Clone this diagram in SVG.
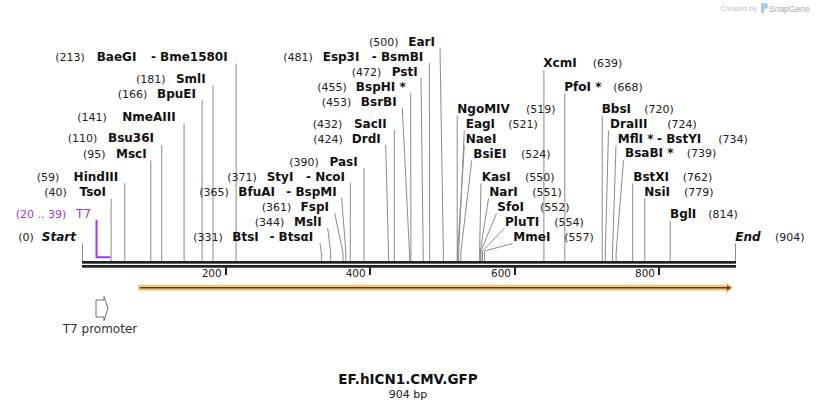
<svg xmlns="http://www.w3.org/2000/svg" width="818" height="411" viewBox="0 0 818 411">
<style>
.n{font-family:"DejaVu Sans",Verdana,sans-serif;font-size:11px;fill:#222}
.b{font-family:"DejaVu Sans",Verdana,sans-serif;font-size:12px;font-weight:bold;fill:#111}
.bi{font-family:"DejaVu Sans",Verdana,sans-serif;font-size:12px;font-weight:bold;font-style:italic;fill:#111}
.e{text-anchor:end}
.t{font-family:"DejaVu Sans",Verdana,sans-serif;font-size:10.5px;fill:#222;text-anchor:end}
.p{font-family:"DejaVu Sans",Verdana,sans-serif;fill:#a335ef}
#connectors line,#connectors polyline{stroke:#8c8c8c;stroke-width:1;fill:none}
</style>
<rect width="818" height="411" fill="#fff"/>
<g id="watermark">
<text x="757" y="11" font-family="'Liberation Sans',Arial,sans-serif" font-size="7.5px" fill="#c4c4c4" text-anchor="end">Created by</text>
<path d="M761,3 h4 a3,3 0 0 1 0,6 h-1 v4 h-3 z" fill="#a9cdef"/>
<text x="769" y="11.5" font-family="'Liberation Sans',Arial,sans-serif" font-size="8.5px" fill="#aaaaaa">SnapGene</text>
</g>
<g id="connectors">
<line x1="82.5" y1="243.5" x2="82.5" y2="261"/>
<line x1="111.1" y1="198.5" x2="111.1" y2="261"/>
<line x1="124.8" y1="183" x2="124.8" y2="261"/>
<line x1="150.8" y1="160.5" x2="150.8" y2="261"/>
<line x1="161.7" y1="145" x2="161.7" y2="261"/>
<line x1="184.1" y1="123.5" x2="184.1" y2="261"/>
<line x1="202.1" y1="100" x2="202.1" y2="261"/>
<line x1="213" y1="85.5" x2="213" y2="261"/>
<line x1="236.1" y1="63.5" x2="236.1" y2="261"/>
<polyline points="320,243 321.4,253 321.4,261"/>
<polyline points="327.7,228 330.7,253 330.7,261"/>
<polyline points="334.7,213 343,253 343,261"/>
<polyline points="341.7,198 345.9,253 345.9,261"/>
<line x1="350.3" y1="183" x2="350.3" y2="261"/>
<line x1="364" y1="168" x2="364" y2="261"/>
<polyline points="385.7,145 388.5,253 388.5,261"/>
<line x1="394.3" y1="130" x2="394.3" y2="261"/>
<polyline points="402.3,108 409.5,253 409.5,261"/>
<polyline points="410.7,93 410.9,253 410.9,261"/>
<polyline points="421,78 423.2,253 423.2,261"/>
<polyline points="429.3,63 429.7,253 429.7,261"/>
<polyline points="440,48 443.4,253 443.4,261"/>
<line x1="457.2" y1="115.5" x2="457.2" y2="261"/>
<polyline points="464.3,130.5 458.6,253 458.6,261"/>
<polyline points="464.3,145.5 457.6,253 457.6,261"/>
<polyline points="471.7,160.5 460.8,253 460.8,261"/>
<polyline points="481,183.5 479.6,251 479.6,261"/>
<polyline points="488.5,198.5 480.3,251 480.3,261"/>
<polyline points="496.5,213.5 481,251 481,261"/>
<polyline points="504,228.5 482.5,251 482.5,261"/>
<polyline points="512.5,243.5 484.6,251 484.6,261"/>
<line x1="543.9" y1="70" x2="543.9" y2="261"/>
<line x1="564.8" y1="93.5" x2="564.8" y2="261"/>
<line x1="602.2" y1="115.5" x2="602.2" y2="261"/>
<polyline points="608.5,130.5 605.3,253 605.3,261"/>
<polyline points="616,145.5 612.5,253 612.5,261"/>
<polyline points="623.5,160.5 616.1,253 616.1,261"/>
<line x1="632.7" y1="183.5" x2="632.7" y2="261"/>
<line x1="644.8" y1="198.5" x2="644.8" y2="261"/>
<line x1="670.2" y1="221" x2="670.2" y2="261"/>
<line x1="735.5" y1="243.5" x2="735.5" y2="261"/>
</g>
<g id="sequence-bar">
<rect x="82" y="261" width="654" height="2.7" fill="#222"/>
<rect x="82" y="265" width="654" height="2.7" fill="#222"/>
<rect x="225" y="267" width="2" height="8" fill="#222"/>
<rect x="369" y="267" width="2" height="8" fill="#222"/>
<rect x="514" y="267" width="2" height="8" fill="#222"/>
<rect x="658" y="267" width="2" height="8" fill="#222"/>
<text class="t" x="221.7" y="277.3">200</text>
<text class="t" x="365.7" y="277.3">400</text>
<text class="t" x="511" y="277.3">600</text>
<text class="t" x="655" y="277.3">800</text>
</g>
<g id="feature-orf">
<path d="M138,284.8 H726 V282.3 L733.5,287.8 L726,293.3 V290.8 H138 Z" fill="#f8c670"/>
<path d="M140,287 H727 V285.2 L731,287.8 L727,290.4 V288.6 H140 Z" fill="#4a3f30"/>
</g>
<g id="t7-promoter">
<path d="M96,300 H104 V296.5 L108,308.5 L104,320.5 V317 H96 Z" fill="#fff" stroke="#6e6e6e" stroke-width="1"/>
<text x="100" y="333" font-family="'DejaVu Sans',sans-serif" font-size="12px" fill="#333" text-anchor="middle">T7 promoter</text>
</g>
<g id="t7-primer">
<polyline points="96.5,220 96.5,257.3 110.5,257.3" fill="none" stroke="#a335ef" stroke-width="2"/>
<text class="p" x="15.7" y="217.7" font-size="11px">(20 .. 39)</text>
<text class="p" x="76" y="217.7" font-size="12px">T7</text>
</g>
<g id="start"><text class="n" x="18.3" y="240.7">(0)</text><text class="bi e" x="76" y="240.7">Start</text></g>
<g id="TsoI"><text class="n" x="44.3" y="196">(40)</text><text class="b e" x="106" y="196">TsoI</text></g>
<g id="HindIII"><text class="n" x="36.7" y="180.7">(59)</text><text class="b e" x="118.3" y="180.7">HindIII</text></g>
<g id="MscI"><text class="n" x="83" y="158">(95)</text><text class="b e" x="146.7" y="158">MscI</text></g>
<g id="Bsu36I"><text class="n" x="67.7" y="142.3">(110)</text><text class="b e" x="154" y="142.3">Bsu36I</text></g>
<g id="NmeAIII"><text class="n" x="77.3" y="121">(141)</text><text class="b e" x="175.7" y="121">NmeAIII</text></g>
<g id="BpuEI"><text class="n" x="117.7" y="97.7">(166)</text><text class="b e" x="196" y="97.7">BpuEI</text></g>
<g id="SmlI"><text class="n" x="136" y="83.3">(181)</text><text class="b e" x="205.7" y="83.3">SmlI</text></g>
<g id="BaeGI"><text class="n" x="55.3" y="61">(213)</text><text class="b" x="96.7" y="61">BaeGI</text><text class="b e" x="227.7" y="61">- Bme1580I</text></g>
<g id="BtsI"><text class="n" x="193.3" y="240.7">(331)</text><text class="b" x="232.3" y="240.7">BtsI</text><text class="b e" x="313.3" y="240.7">- BtsαI</text></g>
<g id="MslI"><text class="n e" x="284.3" y="225.7">(344)</text><text class="b e" x="321.7" y="225.7">MslI</text></g>
<g id="FspI"><text class="n" x="261.7" y="210.7">(361)</text><text class="b e" x="329" y="210.7">FspI</text></g>
<g id="BfuAI"><text class="n" x="199.3" y="195.7">(365)</text><text class="b" x="238.3" y="195.7">BfuAI</text><text class="b e" x="336.7" y="195.7">- BspMI</text></g>
<g id="StyI"><text class="n" x="227.3" y="180.7">(371)</text><text class="b" x="266.7" y="180.7">StyI</text><text class="b e" x="345" y="180.7">- NcoI</text></g>
<g id="PasI"><text class="n" x="289.3" y="165.7">(390)</text><text class="b e" x="357.7" y="165.7">PasI</text></g>
<g id="DrdI"><text class="n" x="313.3" y="142.7">(424)</text><text class="b e" x="380.7" y="142.7">DrdI</text></g>
<g id="SacII"><text class="n" x="312.7" y="127.7">(432)</text><text class="b e" x="386.7" y="127.7">SacII</text></g>
<g id="BsrBI"><text class="n" x="321.7" y="105.7">(453)</text><text class="b e" x="396.7" y="105.7">BsrBI</text></g>
<g id="BspHI"><text class="n" x="317.3" y="90.7">(455)</text><text class="b e" x="405.7" y="90.7">BspHI *</text></g>
<g id="PstI"><text class="n" x="351.7" y="75.7">(472)</text><text class="b e" x="417.7" y="75.7">PstI</text></g>
<g id="Esp3I"><text class="n" x="283.3" y="60.7">(481)</text><text class="b" x="322.7" y="60.7">Esp3I</text><text class="b e" x="423.3" y="60.7">- BsmBI</text></g>
<g id="EarI"><text class="n" x="369" y="45.7">(500)</text><text class="b e" x="435" y="45.7">EarI</text></g>
<g id="NgoMIV"><text class="b" x="457.3" y="112.7">NgoMIV</text><text class="n" x="526" y="112.7">(519)</text></g>
<g id="EagI"><text class="b" x="465.7" y="127.7">EagI</text><text class="n" x="508.3" y="127.7">(521)</text></g>
<g id="NaeI"><text class="b" x="465.7" y="142.7">NaeI</text></g>
<g id="BsiEI"><text class="b" x="473.3" y="157.5">BsiEI</text><text class="n" x="521" y="157.5">(524)</text></g>
<g id="KasI"><text class="b" x="481.7" y="180.7">KasI</text><text class="n" x="525" y="180.7">(550)</text></g>
<g id="NarI"><text class="b" x="489.3" y="195.7">NarI</text><text class="n" x="532.3" y="195.7">(551)</text></g>
<g id="SfoI"><text class="b" x="497.3" y="210.7">SfoI</text><text class="n" x="540" y="210.7">(552)</text></g>
<g id="PluTI"><text class="b" x="505" y="225.7">PluTI</text><text class="n" x="554.3" y="225.7">(554)</text></g>
<g id="MmeI"><text class="b" x="513.3" y="240.7">MmeI</text><text class="n" x="564.3" y="240.7">(557)</text></g>
<g id="XcmI"><text class="b" x="543.3" y="67.3">XcmI</text><text class="n" x="592.7" y="67.3">(639)</text></g>
<g id="PfoI"><text class="b" x="564.3" y="90.7">PfoI *</text><text class="n" x="613.3" y="90.7">(668)</text></g>
<g id="BbsI"><text class="b" x="601.7" y="112.7">BbsI</text><text class="n" x="644.3" y="112.7">(720)</text></g>
<g id="DraIII"><text class="b" x="610" y="127.7">DraIII</text><text class="n" x="667.3" y="127.7">(724)</text></g>
<g id="MflI"><text class="b" x="617.7" y="142.7">MflI *</text><text class="b" x="657" y="142.7">- BstYI</text><text class="n" x="718.3" y="142.7">(734)</text></g>
<g id="BsaBI"><text class="b" x="625" y="157.3">BsaBI *</text><text class="n" x="686.7" y="157.3">(739)</text></g>
<g id="BstXI"><text class="b" x="633.3" y="180.7">BstXI</text><text class="n" x="682.7" y="180.7">(762)</text></g>
<g id="NsiI"><text class="b" x="644.3" y="195.7">NsiI</text><text class="n" x="684" y="195.7">(779)</text></g>
<g id="BglI"><text class="b" x="670" y="218.3">BglI</text><text class="n" x="708.3" y="218.3">(814)</text></g>
<g id="end"><text class="bi" x="735.3" y="240.7">End</text><text class="n" x="775" y="240.7">(904)</text></g>
<g id="title">
<text x="408" y="384" font-family="'DejaVu Sans',sans-serif" font-size="13.5px" font-weight="bold" fill="#111" text-anchor="middle">EF.hICN1.CMV.GFP</text>
<text x="408" y="397.7" font-family="'DejaVu Sans',sans-serif" font-size="11px" fill="#222" text-anchor="middle">904 bp</text>
</g>
</svg>
